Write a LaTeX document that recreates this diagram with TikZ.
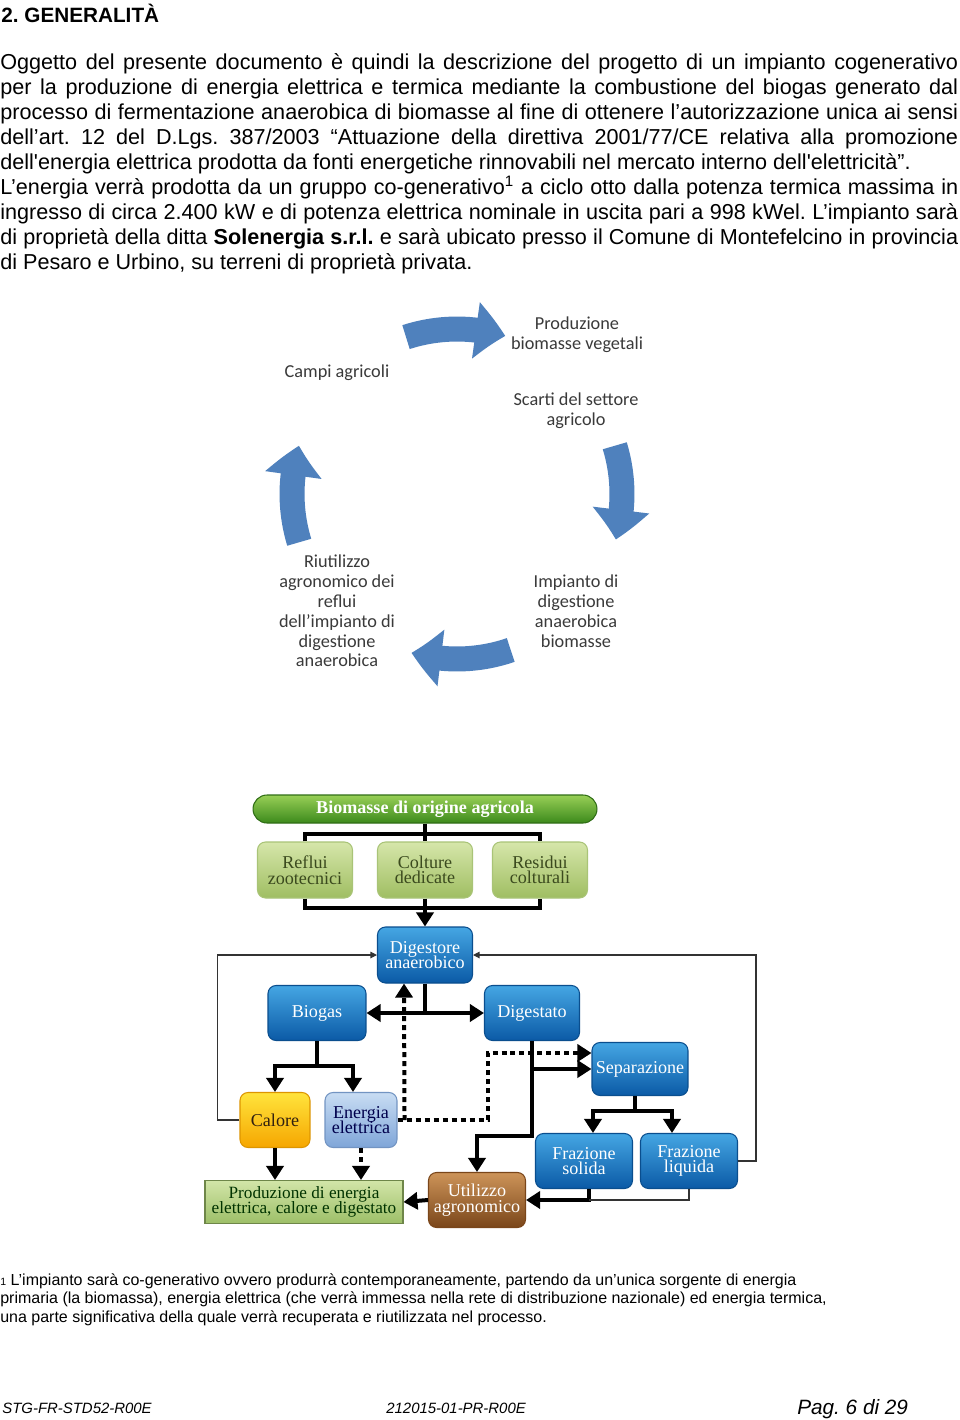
\documentclass[tikz,border=0pt]{standalone}
\usepackage{fontspec}
\setmainfont{Liberation Sans}
\newfontfamily\flowfont{Liberation Serif}
\newfontfamily\cyclefont{Carlito}
\usetikzlibrary{arrows.meta,bending,positioning}
\definecolor{cycleblue}{HTML}{4F81BD}
\definecolor{cycletext}{HTML}{3A3A3A}
\definecolor{boxtop}{HTML}{45A6E3}
\definecolor{boxbot}{HTML}{0B5AA6}
\definecolor{boxedge}{HTML}{0A4E8E}
\definecolor{leaftop}{HTML}{D6E6AA}
\definecolor{leafbot}{HTML}{9FBE62}
\definecolor{leafedge}{HTML}{A9C477}
\definecolor{leaftext}{HTML}{3B4A1E}
\definecolor{bantop}{HTML}{98CF56}
\definecolor{banbot}{HTML}{3C8A1C}
\definecolor{heattop}{HTML}{FFE43C}
\definecolor{heatbot}{HTML}{F6A600}
\definecolor{eltop}{HTML}{C8DCF3}
\definecolor{elbot}{HTML}{7FA5D8}
\definecolor{prodtop}{HTML}{D2E5A8}
\definecolor{prodbot}{HTML}{9DBF68}
\definecolor{soiltop}{HTML}{CD9459}
\definecolor{soilbot}{HTML}{7A461A}
\newcommand\flowtext{\flowfont\fontsize{10.3}{8.8}\selectfont\lineskiplimit=-5pt}
\newcommand\prodtext{\flowfont\fontsize{9.8}{8.6}\selectfont\lineskiplimit=-5pt}
\newcommand\cycletextfont{\cyclefont\fontsize{10.4}{11.3}\selectfont\lineskiplimit=-5pt}
\frenchspacing

\begin{document}
\begin{tikzpicture}[x=0.02cm, y=-0.02cm, >={Triangle[length=0.28cm,width=0.34cm]},
  bodytext/.style={anchor=base west, inner sep=0, text width=19.16cm, align=justify, font=\fontsize{12.3}{14.29}\selectfont},
  foottext/.style={anchor=base west, inner sep=0, align=left, font=\fontsize{9.1}{10.5}\selectfont},
  pagemark/.style={anchor=base west, inner sep=0, font=\itshape\fontsize{8.5}{10}\selectfont},
  cyclelabel/.style={align=center, text=cycletext, font=\cycletextfont, inner sep=0},
  cyclearrow/.style={cycleblue, line width=0.5cm, -{Triangle[length=0.6cm, width=1.1cm, bend]}},
  flowbox/.style={rounded corners=0.16cm, align=center, font=\flowtext, inner sep=0, line width=0.6pt},
  bluebox/.style={flowbox, top color=boxtop, bottom color=boxbot, draw=boxedge, text=white, minimum width=1.9cm, minimum height=1.1cm},
  leafbox/.style={flowbox, top color=leaftop, bottom color=leafbot, draw=leafedge, text=leaftext, minimum width=1.9cm, minimum height=1.12cm},
  link/.style={line width=0.08cm},
  dotlink/.style={line width=0.08cm, dash pattern=on 0.1cm off 0.08cm},
  feedback/.style={line width=0.6pt, black!80},
  feedarrow/.style={feedback, -{Triangle[length=0.13cm,width=0.13cm]}}]
\useasboundingbox[fill=white] (0,0) rectangle (960,1420);

\node[anchor=base west, inner sep=0, font=\bfseries\fontsize{11.8}{14}\selectfont] (titolo) at (1,22) {2. GENERALITÀ};
\node[bodytext] (testo) at (0,69) {Oggetto del presente documento è quindi la descrizione del progetto di un impianto cogenerativo\linebreak
per la produzione di energia elettrica e termica mediante la combustione del biogas generato dal\linebreak
processo di fermentazione anaerobica di biomasse al fine di ottenere l’autorizzazione unica ai sensi\linebreak
dell’art. 12 del D.Lgs. 387/2003 “Attuazione della direttiva 2001/77/CE relativa alla promozione\linebreak
dell\textquotesingle energia elettrica prodotta da fonti energetiche rinnovabili nel mercato interno dell\textquotesingle elettricità”.\par
L’energia verrà prodotta da un gruppo co-generativo\textsuperscript{1} a ciclo otto dalla potenza termica massima in\linebreak
ingresso di circa 2.400 kW e di potenza elettrica nominale in uscita pari a 998 kWel. L’impianto sarà\linebreak
di proprietà della ditta \textbf{Solenergia s.r.l.} e sarà ubicato presso il Comune di Montefelcino in provincia\linebreak
di Pesaro e Urbino, su terreni di proprietà privata.};

\begin{scope}[shift={(457,494)}, y=0.02cm]
  \draw[cyclearrow] (108:3.3cm) arc[start angle=108, end angle=73, radius=3.3cm];
  \draw[cyclearrow] (17:3.3cm) arc[start angle=17, end angle=-16, radius=3.3cm];
  \draw[cyclearrow] (-71:3.3cm) arc[start angle=-71, end angle=-106, radius=3.3cm];
  \draw[cyclearrow] (197:3.3cm) arc[start angle=197, end angle=163, radius=3.3cm];
\end{scope}
\node[cyclelabel] (produzionebio) at (577,335) {Produzione\\biomasse vegetali};
\node[cyclelabel] (campi) at (337,373) {Campi agricoli};
\node[cyclelabel] (scarti) at (576,411) {Scarti del settore\\agricolo};
\node[cyclelabel] (impianto) at (576,611) {Impianto di\\digestione\\anaerobica\\biomasse};
\node[cyclelabel] (riutilizzo) at (337,611) {Riutilizzo\\agronomico dei\\reflui\\dell’impianto di\\digestione\\anaerobica};

\node[flowbox, top color=bantop, bottom color=banbot, draw=banbot!80!black, text=white, rounded corners=0.28cm, minimum width=6.88cm, minimum height=0.56cm, font=\flowfont\bfseries\fontsize{10.3}{12}\selectfont] (biomasse) at (425,809) {Biomasse di origine agricola};
\node[leafbox] (reflui) at (305,870) {Reflui\\zootecnici};
\node[leafbox] (colture) at (425,870) {Colture\\dedicate};
\node[leafbox] (residui) at (540,870) {Residui\\colturali};
\node[bluebox, minimum height=1.12cm] (digestore) at (425,955) {Digestore\\anaerobico};
\node[bluebox, minimum width=1.96cm] (biogas) at (317,1013) {Biogas};
\node[bluebox] (digestato) at (532,1013) {Digestato};
\node[bluebox, minimum width=1.92cm, minimum height=1.06cm] (separazione) at (640,1069) {Separazione};
\node[flowbox, top color=heattop, bottom color=heatbot, draw=heatbot!90!black, text=black!75!brown, minimum width=1.4cm, minimum height=1.1cm] (calore) at (275,1120) {Calore};
\node[flowbox, top color=eltop, bottom color=elbot, draw=elbot!90!black, text=blue!30!black, minimum width=1.44cm, minimum height=1.1cm] (energia) at (361,1120) {Energia\\elettrica};
\node[bluebox, minimum width=1.94cm] (solida) at (584,1161) {Frazione\\solida};
\node[bluebox, minimum width=1.94cm] (liquida) at (689,1161) {Frazione\\liquida};
\node[flowbox, rounded corners=0, top color=prodtop, bottom color=prodbot, draw=prodbot!70!black, text=black!80!green, minimum width=3.96cm, minimum height=0.86cm, font=\prodtext] (produzione) at (304,1202) {Produzione di energia\\elettrica, calore e digestato};
\node[flowbox, top color=soiltop, bottom color=soilbot, draw=soilbot, text=white, minimum width=1.94cm, minimum height=1.1cm] (utilizzo) at (477,1200) {Utilizzo\\agronomico};

\draw[link] (biomasse.south) -- (colture.north);
\draw[link] (reflui.north) -- ++(0,-7) -| (residui.north);
\draw[link] (reflui.south) -- ++(0,9) -| (residui.south);
\draw[link,->] (colture.south) -- (digestore.north);
\draw[link] (digestore.south) -- (digestore.south |- biogas.east);
\draw[link,<->] (biogas.east) -- (digestato.west);
\draw[link,->] (biogas.south) -- ++(0,25) -| (calore.north);
\draw[link,->] (biogas.south) -- ++(0,25) -| ([xshift=-0.16cm]energia.north);
\draw[link,->] (calore.south) -- (calore.south |- produzione.north);
\draw[dotlink,->] (energia.south) -- (energia.south |- produzione.north);
\draw[dotlink,->] (energia.east) -- ++(90,0) |- ([yshift=0.32cm]separazione.west);
\draw[dotlink,->] ([xshift=0.14cm]energia.east) -- ([xshift=-0.42cm]digestore.south);
\draw[link,->] (digestato.south) -- ++(0,95) -| (utilizzo.north);
\draw[link,->] (digestato.south |- separazione.west) -- (separazione.west);
\draw[link,->] ([xshift=-0.1cm]separazione.south) -- ++(0,15) -| ([xshift=0.18cm]solida.north);
\draw[link,->] ([xshift=-0.1cm]separazione.south) -- ++(0,15) -| ([xshift=-0.34cm]liquida.north);
\draw[link,->] ([xshift=0.1cm]solida.south) |- coordinate[pos=0.5] (fjoin) (utilizzo.east);
\draw[feedback] (liquida.south) |- (fjoin);
\draw[link,->] (utilizzo.west) -- (produzione.east);
\draw[feedarrow] (calore.west) -- ++(-22,0) |- (digestore.west);
\draw[feedarrow] (liquida.east) -- ++(18,0) |- (digestore.east);

\node[foottext] (nota) at (0,1322) {{\fontsize{6}{6}\selectfont 1} L’impianto sarà co-generativo ovvero produrrà contemporaneamente, partendo da un’unica sorgente di energia\\
primaria (la biomassa), energia elettrica (che verrà immessa nella rete di distribuzione nazionale) ed energia termica,\\
una parte significativa della quale verrà recuperata e riutilizzata nel processo.};
\node[pagemark] (codice) at (2,1413) {STG-FR-STD52-R00E};
\node[pagemark] (progetto) at (386,1413) {212015-01-PR-R00E};
\node[pagemark, font=\itshape\fontsize{11.8}{14}\selectfont] (pagina) at (797,1414) {Pag. 6 di 29};
\end{tikzpicture}
\end{document}
